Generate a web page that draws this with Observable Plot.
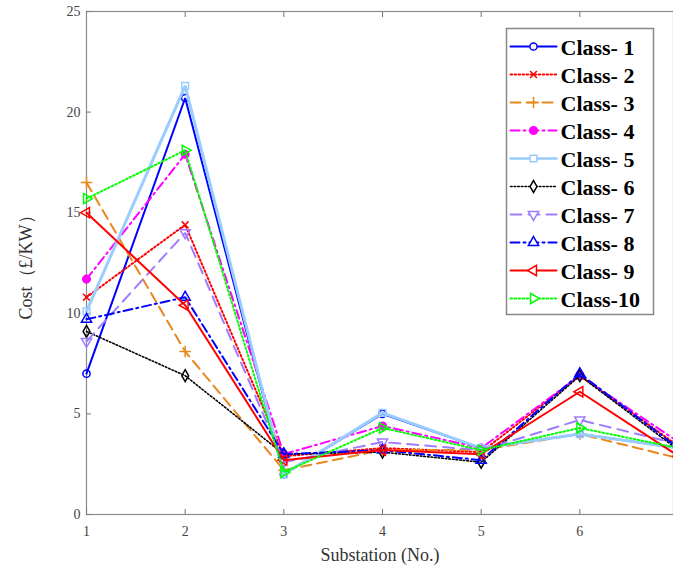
<!DOCTYPE html>
<html>
<head>
<meta charset="utf-8">
<script src="https://cdn.jsdelivr.net/npm/d3@7"></script>
<script src="https://cdn.jsdelivr.net/npm/@observablehq/plot@0.6"></script>
<style>
  html, body { margin: 0; padding: 0; background: #fff; overflow: hidden; }
  #wrap { position: relative; width: 673px; height: 574px; }
  #legend { position: absolute; left: 506px; top: 28px; }
  #wrap svg, #wrap svg text { font-family: "Liberation Serif", "Times New Roman", serif !important; }
  #ylabel text { font-family: "Liberation Serif", "Noto Sans CJK SC", serif !important; }
</style>
</head>
<body>
<div id="wrap"><div id="chart"></div><div id="legend"></div></div>
<script>
// Substations on the x axis
const substations = [1, 2, 3, 4, 5, 6, 7];
const yTicks = [0, 5, 10, 15, 20, 25];

// Cost per class at each substation (£/KW)
const class1  = [7.0, 20.7, 2.0, 5.0, 3.3, 4.0, 3.3];
const class2  = [10.8, 14.4, 2.9, 3.3, 3.1, 6.9, 3.4];
const class3  = [16.5, 8.1, 2.2, 3.2, 3.2, 4.0, 2.8];
const class4  = [11.7, 17.9, 3.0, 4.4, 3.3, 6.9, 3.6];
const class5  = [10.1, 21.3, 2.0, 5.05, 3.3, 4.0, 3.3];
const class6  = [9.1, 6.9, 3.0, 3.1, 2.6, 6.9, 3.2];
const class7  = [8.6, 14.0, 2.6, 3.6, 3.2, 4.7, 3.5];
const class8  = [9.7, 10.8, 3.0, 3.2, 2.7, 7.0, 3.3];
const class9  = [15.0, 10.4, 2.7, 3.2, 3.0, 6.1, 2.9];
const class10 = [15.7, 18.1, 2.1, 4.3, 3.2, 4.3, 3.3];

const classNames = ["Class- 1", "Class- 2", "Class- 3", "Class- 4", "Class- 5",
                    "Class- 6", "Class- 7", "Class- 8", "Class- 9", "Class-10"];
const classValues = [class1, class2, class3, class4, class5, class6, class7, class8, class9, class10];

// Extra marker shapes (d3 symbol-type objects)
const sqrt3 = Math.sqrt(3);
function tri(orient) {
  return {
    draw(ctx, size) {
      const y = -Math.sqrt(size / (sqrt3 * 3));
      const pts = [[0, y * 2], [-sqrt3 * y, -y], [sqrt3 * y, -y]];
      const tr = ([a, b]) => orient === "down" ? [a, -b] : orient === "left" ? [b, a] : [-b, a];
      const p = pts.map(tr);
      ctx.moveTo(p[0][0], p[0][1]);
      ctx.lineTo(p[1][0], p[1][1]);
      ctx.lineTo(p[2][0], p[2][1]);
      ctx.closePath();
    }
  };
}

const styles = [
  {stroke: "#0000ff", dash: null,          width: 2,   symbol: "circle",   fill: "none", r: 3.6},
  {stroke: "#ff0000", dash: "1.6,2.4",     width: 2,   symbol: "times",    fill: "none", r: 3.2},
  {stroke: "#e8871e", dash: "10,6",        width: 2,   symbol: "plus",     fill: "none", r: 3.8},
  {stroke: "#ff00ff", dash: "9,4,2,4",     width: 2,   symbol: "circle",   fill: "#ff00ff", r: 3.8},
  {stroke: "#99ccff", dash: null,          width: 3,   symbol: "square",   fill: "none", r: 3.8},
  {stroke: "#000000", dash: "1.6,2",       width: 1.6, symbol: "diamond",  fill: "none", r: 3.6},
  {stroke: "#9f7cff", dash: "11,7",        width: 2,   symbol: tri("down"),  fill: "none", r: 3.8},
  {stroke: "#0000ff", dash: "9,4,2,4",     width: 2,   symbol: "triangle", fill: "none", r: 3.8},
  {stroke: "#ff0000", dash: null,          width: 2,   symbol: tri("left"),  fill: "none", r: 3.8},
  {stroke: "#00ff00", dash: "1.6,2.4",     width: 2,   symbol: tri("right"), fill: "none", r: 3.8}
];

const rows = classValues.map(vals => substations.map((s, i) => ({substation: s, cost: vals[i]})));

const font = "'Liberation Serif', 'Times New Roman', serif";

const marks = [];
rows.forEach((data, k) => {
  const st = styles[k];
  marks.push(Plot.line(data, {x: "substation", y: "cost", stroke: st.stroke, strokeWidth: st.width,
    strokeDasharray: st.dash, strokeLinejoin: "miter"}));
  marks.push(Plot.dot(data, {x: "substation", y: "cost", symbol: st.symbol, r: st.r, stroke: st.stroke,
    fill: st.fill, strokeWidth: 1.5}));
});

const chart = Plot.plot({
  width: 673,
  height: 574,
  marginTop: 11,
  marginBottom: 60,
  marginLeft: 86,
  marginRight: 0,
  style: {fontFamily: font, background: "#fff", overflow: "hidden"},
  x: {domain: [1, 7], range: [86, 678]},
  y: {domain: [0, 25]},
  marks: [
    Plot.frame({stroke: "#8a8a8a", strokeWidth: 1.2}),
    Plot.axisX(substations.slice(0, 6), {anchor: "bottom", tickSize: -5, tickPadding: 17, fontSize: 14,
      stroke: "#777", fill: "#444", label: "Substation (No.)", labelAnchor: "center", labelArrow: "none",
      labelOffset: 46}),
    Plot.axisX(substations.slice(1, 6), {anchor: "top", tickSize: -5, tickFormat: () => "", stroke: "#777", label: null}),
    Plot.axisY(yTicks, {anchor: "left", tickSize: -5, tickPadding: 11, fontSize: 14, stroke: "#777", fill: "#444",
      label: "Cost（£/KW）", labelAnchor: "center", labelArrow: "none", labelOffset: 67}),
    ...marks
  ]
});
chart.querySelectorAll("g[aria-label='x-axis label'], g[aria-label='y-axis label']").forEach(g => {
  if (g.getAttribute("aria-label") === "y-axis label") g.id = "ylabel";
  g.querySelectorAll("text").forEach(t => {
    t.setAttribute("font-size", "18"); t.style.fontSize = "18px"; t.setAttribute("fill", "#333");
  });
});
document.getElementById("chart").append(chart);

// Legend: line sample, marker and bold label for each class
const legendMarks = [Plot.frame({stroke: "#888", strokeWidth: 1.5})];
classNames.forEach((name, k) => {
  const st = styles[k];
  const seg = [{x: 0, name}, {x: 1, name}];
  legendMarks.push(Plot.line(seg, {x: "x", y: "name", stroke: st.stroke, strokeWidth: st.width === 3 ? 2.5 : st.width,
    strokeDasharray: st.dash}));
  legendMarks.push(Plot.dot([{x: 0.5, name}], {x: "x", y: "name", symbol: st.symbol, r: st.r, stroke: st.stroke,
    fill: st.fill === "none" ? "#fff" : st.fill, strokeWidth: 1.5}));
  legendMarks.push(Plot.text([{x: 1, name}], {x: "x", y: "name", text: "name", dx: 4, dy: 1, textAnchor: "start",
    fontSize: 22, fontWeight: "bold", fill: "#000"}));
});
const legend = Plot.plot({
  width: 147,
  height: 286,
  margin: 0,
  style: {fontFamily: font, background: "#fff", overflow: "visible"},
  x: {domain: [0, 1], range: [4, 50], axis: null},
  y: {type: "point", domain: classNames, range: [17, 270], padding: 0, axis: null},
  marks: legendMarks
});
document.getElementById("legend").append(legend);
</script>
</body>
</html>
